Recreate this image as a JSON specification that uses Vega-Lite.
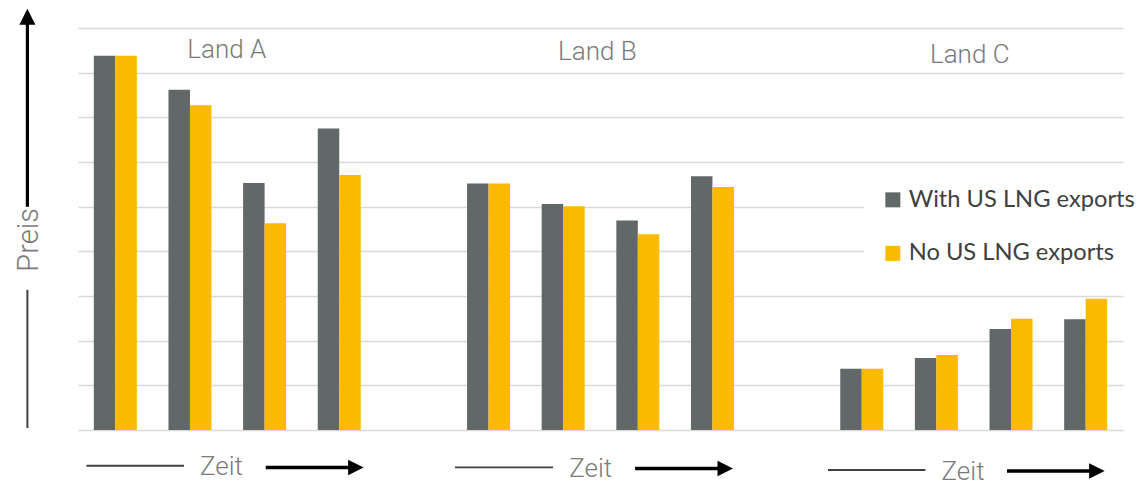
{
  "$schema": "https://vega.github.io/schema/vega-lite/v6.json",
  "width": 1045,
  "height": 402,
  "autosize": {"type": "none"},
  "padding": {"left": 78, "top": 28, "right": 17, "bottom": 61},
  "background": "white",
  "config": {
    "view": {"stroke": null},
    "text": {"font": "Roboto", "fontWeight": 300, "color": "#7a7a7a"},
    "axisY": {"values": [0,1,2,3,4,5,6,7,8,9], "grid": true, "gridColor": "#D9D9D9", "gridWidth": 1.5, "labels": false, "ticks": false, "domain": false},
    "axisX": {"grid": false, "labels": false, "ticks": false, "domain": false}
  },
  "datasets": {
    "prices": [
      {"land": "Land A", "zeit": 1, "slot": "A1", "series": "With US LNG exports", "value": 8.38},
      {"land": "Land A", "zeit": 1, "slot": "A1", "series": "No US LNG exports", "value": 8.38},
      {"land": "Land A", "zeit": 2, "slot": "A2", "series": "With US LNG exports", "value": 7.62},
      {"land": "Land A", "zeit": 2, "slot": "A2", "series": "No US LNG exports", "value": 7.27},
      {"land": "Land A", "zeit": 3, "slot": "A3", "series": "With US LNG exports", "value": 5.53},
      {"land": "Land A", "zeit": 3, "slot": "A3", "series": "No US LNG exports", "value": 4.63},
      {"land": "Land A", "zeit": 4, "slot": "A4", "series": "With US LNG exports", "value": 6.75},
      {"land": "Land A", "zeit": 4, "slot": "A4", "series": "No US LNG exports", "value": 5.71},
      {"land": "Land B", "zeit": 1, "slot": "B1", "series": "With US LNG exports", "value": 5.52},
      {"land": "Land B", "zeit": 1, "slot": "B1", "series": "No US LNG exports", "value": 5.52},
      {"land": "Land B", "zeit": 2, "slot": "B2", "series": "With US LNG exports", "value": 5.06},
      {"land": "Land B", "zeit": 2, "slot": "B2", "series": "No US LNG exports", "value": 5.01},
      {"land": "Land B", "zeit": 3, "slot": "B3", "series": "With US LNG exports", "value": 4.69},
      {"land": "Land B", "zeit": 3, "slot": "B3", "series": "No US LNG exports", "value": 4.38},
      {"land": "Land B", "zeit": 4, "slot": "B4", "series": "With US LNG exports", "value": 5.68},
      {"land": "Land B", "zeit": 4, "slot": "B4", "series": "No US LNG exports", "value": 5.44},
      {"land": "Land C", "zeit": 1, "slot": "C1", "series": "With US LNG exports", "value": 1.37},
      {"land": "Land C", "zeit": 1, "slot": "C1", "series": "No US LNG exports", "value": 1.37},
      {"land": "Land C", "zeit": 2, "slot": "C2", "series": "With US LNG exports", "value": 1.61},
      {"land": "Land C", "zeit": 2, "slot": "C2", "series": "No US LNG exports", "value": 1.68},
      {"land": "Land C", "zeit": 3, "slot": "C3", "series": "With US LNG exports", "value": 2.26},
      {"land": "Land C", "zeit": 3, "slot": "C3", "series": "No US LNG exports", "value": 2.49},
      {"land": "Land C", "zeit": 4, "slot": "C4", "series": "With US LNG exports", "value": 2.48},
      {"land": "Land C", "zeit": 4, "slot": "C4", "series": "No US LNG exports", "value": 2.94}
    ]
  },
  "resolve": {"scale": {"x": "independent"}, "axis": {"x": "independent"}},
  "layer": [
    {
      "data": {"name": "prices"},
      "mark": {"type": "bar"},
      "encoding": {
        "x": {
          "field": "slot", "type": "nominal",
          "scale": {"domain": ["A1","A2","A3","A4","gap1","B1","B2","B3","B4","gap2","C1","C2","C3","C4"], "paddingInner": 0.424, "paddingOuter": 0.212},
          "axis": null
        },
        "xOffset": {
          "field": "series", "type": "nominal",
          "scale": {"domain": ["With US LNG exports", "No US LNG exports"], "paddingInner": 0, "paddingOuter": 0}
        },
        "y": {
          "field": "value", "type": "quantitative",
          "scale": {"domain": [0, 9], "nice": false, "zero": true},
          "title": null
        },
        "color": {
          "field": "series", "type": "nominal",
          "scale": {"domain": ["With US LNG exports", "No US LNG exports"], "range": ["#626867", "#FBBA00"]},
          "legend": {
            "title": null, "orient": "none", "legendX": 786, "legendY": 143,
            "fillColor": "white", "padding": 17,
            "symbolType": "square", "symbolSize": 225, "symbolStrokeWidth": 0, "symbolOpacity": 1,
            "labelFont": "Lato", "labelFontSize": 23.7, "labelColor": "#404040", "labelOffset": 4,
            "rowPadding": 28.5, "labelLimit": 400
          }
        }
      }
    },
    {
      "data": {"values": [{}]},
      "layer": [
        {"mark": {"type": "rule", "color": "#404040", "strokeWidth": 1.8},
         "encoding": {"x": {"datum": 0.113, "type": "quantitative", "scale": {"domain": [0, 14], "nice": false, "zero": false}, "axis": null}, "x2": {"datum": 1.42}, "y": {"datum": -0.8, "type": "quantitative", "title": null}}},
        {"mark": {"type": "rule", "color": "#404040", "strokeWidth": 1.8},
         "encoding": {"x": {"datum": 5.051, "type": "quantitative", "scale": {"domain": [0, 14], "nice": false, "zero": false}, "axis": null}, "x2": {"datum": 6.364}, "y": {"datum": -0.837, "type": "quantitative", "title": null}}},
        {"mark": {"type": "rule", "color": "#404040", "strokeWidth": 1.8},
         "encoding": {"x": {"datum": 10.048, "type": "quantitative", "scale": {"domain": [0, 14], "nice": false, "zero": false}, "axis": null}, "x2": {"datum": 11.353}, "y": {"datum": -0.896, "type": "quantitative", "title": null}}},
        {"mark": {"type": "rule", "color": "black", "strokeWidth": 3.5},
         "encoding": {"x": {"datum": 2.515, "type": "quantitative", "scale": {"domain": [0, 14], "nice": false, "zero": false}, "axis": null}, "x2": {"datum": 3.63}, "y": {"datum": -0.84, "type": "quantitative", "title": null}}},
        {"mark": {"type": "rule", "color": "black", "strokeWidth": 3.5},
         "encoding": {"x": {"datum": 7.463, "type": "quantitative", "scale": {"domain": [0, 14], "nice": false, "zero": false}, "axis": null}, "x2": {"datum": 8.58}, "y": {"datum": -0.86, "type": "quantitative", "title": null}}},
        {"mark": {"type": "rule", "color": "black", "strokeWidth": 3.5},
         "encoding": {"x": {"datum": 12.446, "type": "quantitative", "scale": {"domain": [0, 14], "nice": false, "zero": false}, "axis": null}, "x2": {"datum": 13.56}, "y": {"datum": -0.918, "type": "quantitative", "title": null}}},
        {"mark": {"type": "point", "shape": "M1,0L-1,-1L-1,1Z", "size": 240, "filled": true, "color": "black", "opacity": 1, "strokeWidth": 0},
         "encoding": {"x": {"datum": 3.723, "type": "quantitative", "scale": {"domain": [0, 14], "nice": false, "zero": false}, "axis": null}, "y": {"datum": -0.84, "type": "quantitative", "title": null}}},
        {"mark": {"type": "point", "shape": "M1,0L-1,-1L-1,1Z", "size": 240, "filled": true, "color": "black", "opacity": 1, "strokeWidth": 0},
         "encoding": {"x": {"datum": 8.671, "type": "quantitative", "scale": {"domain": [0, 14], "nice": false, "zero": false}, "axis": null}, "y": {"datum": -0.86, "type": "quantitative", "title": null}}},
        {"mark": {"type": "point", "shape": "M1,0L-1,-1L-1,1Z", "size": 240, "filled": true, "color": "black", "opacity": 1, "strokeWidth": 0},
         "encoding": {"x": {"datum": 13.65, "type": "quantitative", "scale": {"domain": [0, 14], "nice": false, "zero": false}, "axis": null}, "y": {"datum": -0.918, "type": "quantitative", "title": null}}},
        {"mark": {"type": "rule", "color": "black", "strokeWidth": 3.2},
         "encoding": {"x": {"datum": -0.678, "type": "quantitative", "scale": {"domain": [0, 14], "nice": false, "zero": false}, "axis": null}, "y": {"datum": 4.997, "type": "quantitative", "title": null}, "y2": {"datum": 9.1}}},
        {"mark": {"type": "rule", "color": "#404040", "strokeWidth": 2},
         "encoding": {"x": {"datum": -0.678, "type": "quantitative", "scale": {"domain": [0, 14], "nice": false, "zero": false}, "axis": null}, "y": {"datum": 0.045, "type": "quantitative", "title": null}, "y2": {"datum": 3.137}}},
        {"mark": {"type": "point", "shape": "M0,-1L1,1L-1,1Z", "size": 256, "filled": true, "color": "black", "opacity": 1, "strokeWidth": 0},
         "encoding": {"x": {"datum": -0.678, "type": "quantitative", "scale": {"domain": [0, 14], "nice": false, "zero": false}, "axis": null}, "y": {"datum": 9.25, "type": "quantitative", "title": null}}},
        {"mark": {"type": "text", "text": "Land A", "fontSize": 26, "align": "center", "baseline": "alphabetic"},
         "encoding": {"x": {"datum": 1.994, "type": "quantitative", "scale": {"domain": [0, 14], "nice": false, "zero": false}, "axis": null}, "y": {"datum": 8.329, "type": "quantitative", "title": null}}},
        {"mark": {"type": "text", "text": "Land B", "fontSize": 26, "align": "center", "baseline": "alphabetic"},
         "encoding": {"x": {"datum": 6.959, "type": "quantitative", "scale": {"domain": [0, 14], "nice": false, "zero": false}, "axis": null}, "y": {"datum": 8.276, "type": "quantitative", "title": null}}},
        {"mark": {"type": "text", "text": "Land C", "fontSize": 26, "align": "center", "baseline": "alphabetic"},
         "encoding": {"x": {"datum": 11.947, "type": "quantitative", "scale": {"domain": [0, 14], "nice": false, "zero": false}, "axis": null}, "y": {"datum": 8.216, "type": "quantitative", "title": null}}},
        {"mark": {"type": "text", "text": "Zeit", "fontSize": 26, "align": "center", "baseline": "alphabetic"},
         "encoding": {"x": {"datum": 1.921, "type": "quantitative", "scale": {"domain": [0, 14], "nice": false, "zero": false}, "axis": null}, "y": {"datum": -1.008, "type": "quantitative", "title": null}}},
        {"mark": {"type": "text", "text": "Zeit", "fontSize": 26, "align": "center", "baseline": "alphabetic"},
         "encoding": {"x": {"datum": 6.869, "type": "quantitative", "scale": {"domain": [0, 14], "nice": false, "zero": false}, "axis": null}, "y": {"datum": -1.06, "type": "quantitative", "title": null}}},
        {"mark": {"type": "text", "text": "Zeit", "fontSize": 26, "align": "center", "baseline": "alphabetic"},
         "encoding": {"x": {"datum": 11.857, "type": "quantitative", "scale": {"domain": [0, 14], "nice": false, "zero": false}, "axis": null}, "y": {"datum": -1.12, "type": "quantitative", "title": null}}},
        {"mark": {"type": "text", "text": "Preis", "fontSize": 29, "align": "center", "baseline": "alphabetic", "angle": 270},
         "encoding": {"x": {"datum": -0.536, "type": "quantitative", "scale": {"domain": [0, 14], "nice": false, "zero": false}, "axis": null}, "y": {"datum": 4.257, "type": "quantitative", "title": null}}}
      ]
    }
  ]
}
